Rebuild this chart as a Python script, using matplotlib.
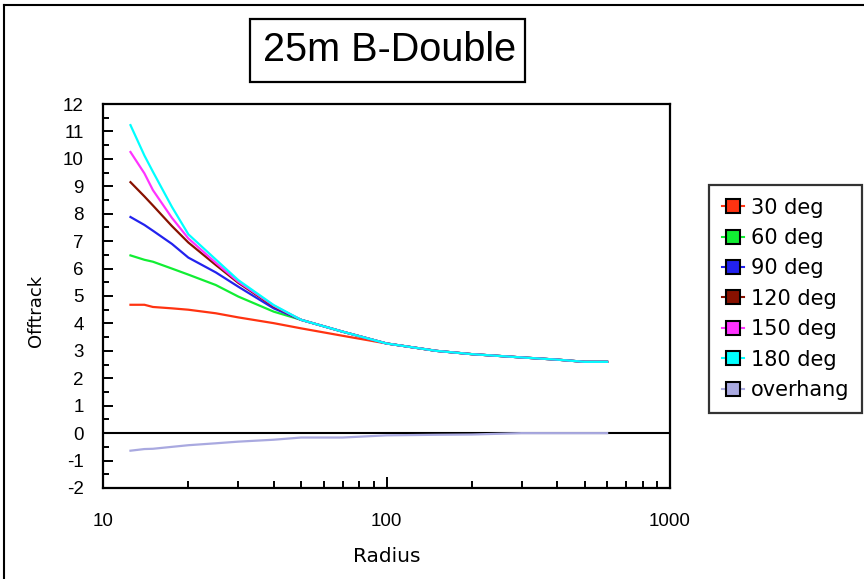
import matplotlib
matplotlib.use("Agg")
import matplotlib.pyplot as plt
from matplotlib.lines import Line2D
from matplotlib.patches import Rectangle
from matplotlib.ticker import MultipleLocator, FixedLocator, FuncFormatter, LogLocator, NullFormatter

plt.rcParams["axes.unicode_minus"] = False

# offtracking vs turn radius, one curve per turn angle
radius = [12.5, 14, 15, 17.5, 20, 25, 30, 40, 50, 70, 100, 150, 200, 300, 400, 500, 600]
deg30 = [4.68, 4.68, 4.6, 4.55, 4.5, 4.37, 4.22, 4.01, 3.82, 3.55, 3.27, 3.0, 2.88, 2.76, 2.68, 2.6, 2.6]
deg60 = [6.48, 6.32, 6.25, 6.0, 5.78, 5.4, 4.98, 4.43, 4.13, 3.7, 3.27, 3.0, 2.88, 2.76, 2.68, 2.6, 2.6]
deg90 = [7.88, 7.59, 7.38, 6.9, 6.4, 5.86, 5.34, 4.55, 4.13, 3.7, 3.27, 3.0, 2.88, 2.76, 2.68, 2.6, 2.6]
deg120 = [9.15, 8.63, 8.3, 7.55, 6.95, 6.13, 5.48, 4.62, 4.13, 3.7, 3.27, 3.0, 2.88, 2.76, 2.68, 2.6, 2.6]
deg150 = [10.25, 9.47, 8.86, 7.85, 7.1, 6.21, 5.52, 4.65, 4.13, 3.7, 3.27, 3.0, 2.88, 2.76, 2.68, 2.6, 2.6]
deg180 = [11.23, 10.12, 9.53, 8.25, 7.25, 6.33, 5.58, 4.67, 4.13, 3.7, 3.27, 3.0, 2.88, 2.76, 2.68, 2.6, 2.6]
overhang = [-0.64, -0.58, -0.57, -0.5, -0.44, -0.37, -0.31, -0.24, -0.16, -0.16, -0.08, -0.06, -0.05, 0.0, 0.0, 0.0, 0.0]

labels = ["30 deg", "60 deg", "90 deg", "120 deg", "150 deg", "180 deg", "overhang"]
colors = ["#ff3311", "#11ee33", "#2222ee", "#881100", "#ff33ff", "#00ffff", "#a9a9e0"]
series = [deg30, deg60, deg90, deg120, deg150, deg180, overhang]

fig = plt.figure(figsize=(8.64, 5.79), dpi=100)
ax = fig.add_axes([103 / 864, 1 - 488 / 579, 567 / 864, 384 / 579])

ax.axhline(0, color="black", lw=1.5, zorder=1)
for ys, c, lab in zip(series, colors, labels):
    ax.plot(radius, ys, color=c, lw=1.6, label=lab, zorder=2)

ax.set_xscale("log")
ax.set_xlim(10, 1000)
ax.set_ylim(-2, 12)
ax.xaxis.set_major_locator(FixedLocator([10, 100, 1000]))
ax.xaxis.set_major_formatter(FuncFormatter(lambda v, p: f"{v:g}"))
ax.xaxis.set_minor_locator(LogLocator(base=10, subs=range(2, 10)))
ax.xaxis.set_minor_formatter(NullFormatter())
ax.yaxis.set_major_locator(MultipleLocator(1))
ax.yaxis.set_minor_locator(MultipleLocator(0.5))

for s in ax.spines.values():
    s.set_linewidth(1.6)
ax.tick_params(axis="both", which="both", direction="in", width=1.4, colors="black",
               labelsize=13.5, labelfontfamily="Liberation Sans")
ax.tick_params(axis="y", which="major", length=7, pad=14)
ax.tick_params(axis="y", which="minor", length=4)
ax.tick_params(axis="x", which="major", length=8, pad=18)
ax.tick_params(axis="x", which="minor", length=5)

ax.set_xlabel("Radius", fontsize=14.5, labelpad=12)
ax.set_ylabel("Offtrack", fontsize=13)
ax.yaxis.set_label_coords(-0.103, 0.46)

handles = [Line2D([], [], color=c, lw=1.5, marker="s", markersize=10,
                  markerfacecolor=c, markeredgecolor="black", markeredgewidth=1.5)
           for c in colors]
leg = fig.legend(handles, labels, loc="upper left",
                 bbox_to_anchor=(709 / 864, 1 - 185 / 579), borderaxespad=0,
                 fontsize=15, frameon=True, fancybox=False, handlelength=1.1,
                 handletextpad=0.3, borderpad=0.6, labelspacing=0.5)
leg.get_frame().set_edgecolor("black")
leg.get_frame().set_linewidth(1.6)

# boxed title
fig.patches.append(Rectangle((250 / 864, 1 - 82 / 579), 275 / 864, 63 / 579,
                             transform=fig.transFigure, fill=False,
                             edgecolor="black", lw=1.6))
fig.text(390 / 864, 1 - 50 / 579, "25m B-Double", ha="center", va="center",
         fontsize=28.5, family="Liberation Sans")

# outer frame
fig.add_artist(Line2D([4 / 864, 4 / 864], [0, 1 - 5 / 579], color="black", lw=1.5,
                      transform=fig.transFigure))
fig.add_artist(Line2D([4 / 864, 1], [1 - 5 / 579, 1 - 5 / 579], color="black", lw=1.5,
                      transform=fig.transFigure))

fig.savefig("out.png", dpi=100)
